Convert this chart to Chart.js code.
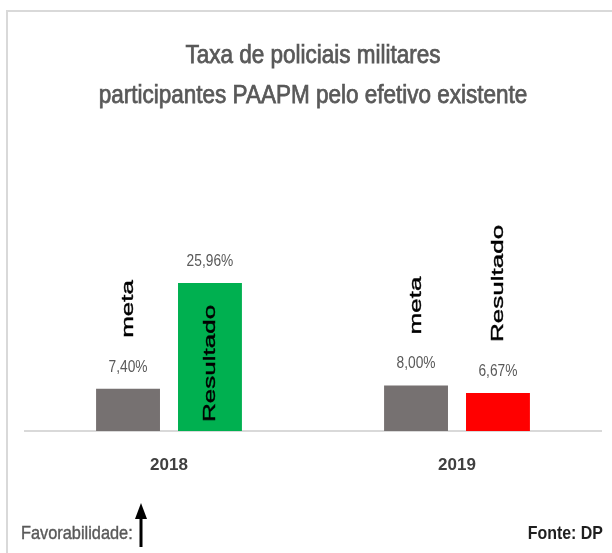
<!DOCTYPE html>
<html>
<head>
<meta charset="utf-8">
<script src="https://cdn.jsdelivr.net/npm/chart.js@4.4.1/dist/chart.umd.min.js"></script>
<style>
  html, body { margin: 0; padding: 0; background: #ffffff; }
  #wrap { width: 612px; height: 553px; }
</style>
</head>
<body>
<div id="wrap"><canvas id="c" width="612" height="553"></canvas></div>
<script>
// ---- data ----
const titleLines = ['Taxa de policiais militares', 'participantes PAAPM pelo efetivo existente'];
const categories = ['2018', '2019'];
const seriesNames = ['meta', 'Resultado'];
const metaValues = [7.40, 8.00];
const resultadoValues = [25.96, 6.67];
const footerLeft = 'Favorabilidade:';
const footerRight = 'Fonte: DP';

const SANS = '"Liberation Sans", Arial, sans-serif';
const STRETCH = 1.53;

function fmt(v) { return v.toFixed(2).replace('.', ',') + '%'; }

function scaledText(ctx, text, x, y, align, sx, strokeW) {
  ctx.save();
  ctx.translate(x, y);
  ctx.scale(sx, 1);
  ctx.textAlign = align;
  ctx.fillText(text, 0, 0);
  if (strokeW) {
    ctx.lineWidth = strokeW;
    ctx.strokeStyle = ctx.fillStyle;
    ctx.strokeText(text, 0, 0);
  }
  ctx.restore();
}

const overlay = {
  id: 'overlay',
  beforeDraw(chart) {
    const ctx = chart.ctx;
    ctx.save();
    ctx.fillStyle = '#ffffff';
    ctx.fillRect(0, 0, chart.width, chart.height);
    ctx.strokeStyle = '#d9d9d9';
    ctx.lineWidth = 2;
    ctx.beginPath();
    ctx.moveTo(7, chart.height + 5);
    ctx.lineTo(7, 11);
    ctx.lineTo(chart.width + 5, 11);
    ctx.stroke();
    // title
    ctx.font = '25px ' + SANS;
    ctx.fillStyle = '#595959';
    ctx.textBaseline = 'alphabetic';
    const cx = (chart.chartArea.left + chart.chartArea.right) / 2;
    titleLines.forEach((line, k) => {
      scaledText(ctx, line, cx, 63 + k * 40, 'center', 0.9, 0.75);
    });
    ctx.restore();
  },
  afterDatasetsDraw(chart) {
    const ctx = chart.ctx;
    chart.data.datasets.forEach((ds, di) => {
      const meta = chart.getDatasetMeta(di);
      meta.data.forEach((bar, i) => {
        const v = ds.data[i];
        ctx.save();
        ctx.font = '17px ' + SANS;
        ctx.fillStyle = '#595959';
        ctx.textBaseline = 'middle';
        scaledText(ctx, fmt(v), bar.x, bar.y - 22, 'center', 0.81);
        ctx.restore();

        ctx.save();
        ctx.font = '17px ' + SANS;
        const w = ctx.measureText(ds.label).width * STRETCH;
        const barH = bar.base - bar.y;
        const start = (w + 18 < barH) ? bar.base - 9 : bar.y - 51;
        ctx.translate(bar.x, start);
        ctx.rotate(-Math.PI / 2);
        ctx.scale(STRETCH, 1);
        ctx.fillStyle = '#000000';
        ctx.textAlign = 'left';
        ctx.textBaseline = 'middle';
        ctx.fillText(ds.label, 0, 0);
        ctx.lineWidth = 0.4;
        ctx.strokeStyle = '#000000';
        ctx.strokeText(ds.label, 0, 0);
        ctx.restore();
      });
    });
  },
  afterDraw(chart) {
    const ctx = chart.ctx;
    ctx.save();
    ctx.textBaseline = 'alphabetic';
    ctx.font = '19px ' + SANS;
    ctx.fillStyle = '#595959';
    scaledText(ctx, footerLeft, 21, 539, 'left', 0.86, 0.4);
    ctx.font = 'bold 19px ' + SANS;
    ctx.fillStyle = '#1f1f1f';
    scaledText(ctx, footerRight, 603, 539, 'right', 0.84);
    // arrow
    ctx.fillStyle = '#000000';
    ctx.fillRect(139.5, 516, 3, 31);
    ctx.beginPath();
    ctx.moveTo(141, 503);
    ctx.lineTo(135, 519);
    ctx.lineTo(147, 519);
    ctx.closePath();
    ctx.fill();
    ctx.restore();
  }
};

new Chart(document.getElementById('c'), {
  type: 'bar',
  data: {
    labels: categories,
    datasets: [
      {
        label: seriesNames[0],
        data: metaValues,
        backgroundColor: '#767171',
        categoryPercentage: 0.569,
        barPercentage: 0.78
      },
      {
        label: seriesNames[1],
        data: resultadoValues,
        backgroundColor: (c) => {
          const i = c.dataIndex;
          return resultadoValues[i] >= metaValues[i] ? '#00B050' : '#FF0000';
        },
        categoryPercentage: 0.569,
        barPercentage: 0.78
      }
    ]
  },
  options: {
    responsive: false,
    animation: false,
    devicePixelRatio: 1,
    layout: { padding: { left: 25, right: 11, top: 260, bottom: 0 } },
    plugins: {
      legend: { display: false },
      tooltip: { enabled: false },
      title: { display: false }
    },
    scales: {
      x: {
        grid: { display: false, drawTicks: false },
        border: { display: true, color: '#d9d9d9', width: 2 },
        ticks: {
          color: '#404040',
          font: { family: SANS, size: 17, weight: 'bold' },
          padding: 24
        },
        afterFit: (s) => { s.height = 122; }
      },
      y: {
        display: false,
        min: 0,
        max: 30
      }
    }
  },
  plugins: [overlay]
});
</script>
</body>
</html>
